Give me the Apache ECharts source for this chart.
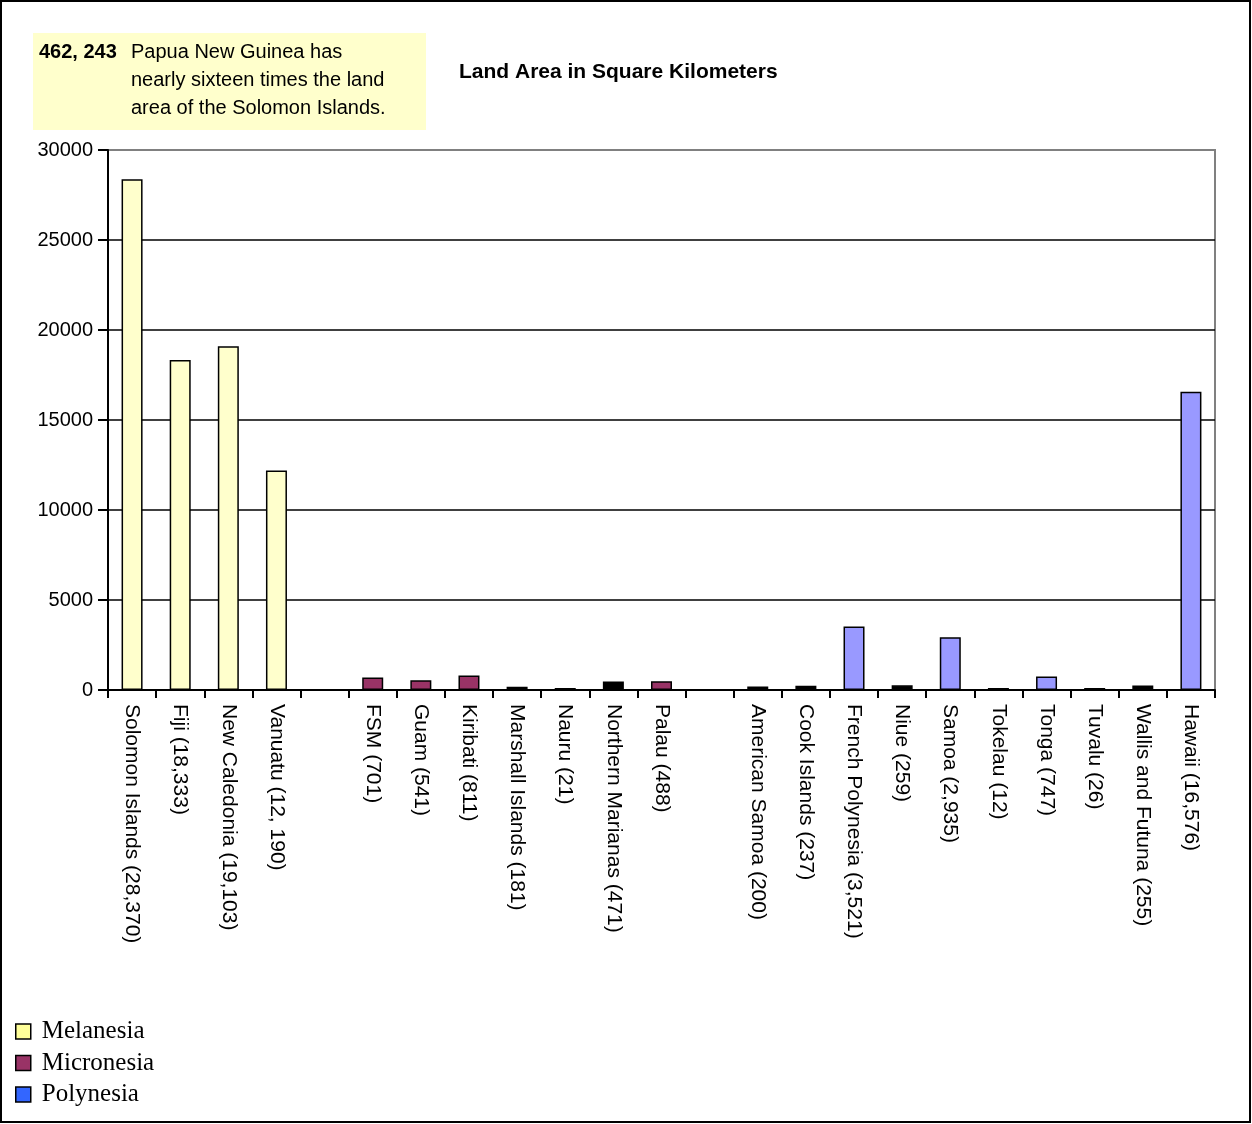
<!DOCTYPE html>
<html>
<head>
<meta charset="utf-8">
<script src="https://cdn.jsdelivr.net/npm/echarts@6/dist/echarts.min.js"></script>
<style>
  html, body { margin: 0; padding: 0; background: #fff; }
  #main { width: 1252px; height: 1124px; }
</style>
</head>
<body>
<div id="main"></div>
<script>
    // categories along the x axis ('' = gap between regions)
    var islands = ['Solomon Islands (28,370)', 'Fiji (18,333)', 'New Caledonia (19,103)', 'Vanuatu (12, 190)', '',
        'FSM (701)', 'Guam (541)', 'Kiribati (811)', 'Marshall Islands (181)', 'Nauru (21)', 'Northern Marianas (471)', 'Palau (488)', '',
        'American Samoa (200)', 'Cook Islands (237)', 'French Polynesia (3,521)', 'Niue (259)', 'Samoa (2,935)', 'Tokelau (12)',
        'Tonga (747)', 'Tuvalu (26)', 'Wallis and Futuna (255)', 'Hawaii (16,576)'];

    var melanesia = [28370, 18333, 19103, 12190, null,
        null, null, null, null, null, null, null, null,
        null, null, null, null, null, null, null, null, null, null];
    var micronesia = [null, null, null, null, null,
        701, 541, 811, 181, 21, 471, 488, null,
        null, null, null, null, null, null, null, null, null, null];
    var polynesia = [null, null, null, null, null,
        null, null, null, null, null, null, null, null,
        200, 237, 3521, 259, 2935, 12, 747, 26, 255, 16576];

    // bars that are drawn solid black in the original
    var blackBars = ['Marshall Islands (181)', 'Nauru (21)', 'Northern Marianas (471)', 'American Samoa (200)',
        'Cook Islands (237)', 'Niue (259)', 'Tokelau (12)', 'Tuvalu (26)', 'Wallis and Futuna (255)'];

    var yTicks = [0, 5000, 10000, 15000, 20000, 25000, 30000];

    function toItems(values) {
        return values.map(function (v, i) {
            if (v == null) return null;
            if (blackBars.indexOf(islands[i]) >= 0) {
                return { value: v, itemStyle: { color: '#000000' } };
            }
            return v;
        });
    }

    var myChart = echarts.init(document.getElementById('main'));
    var barStyle = { borderColor: '#000', borderWidth: 1.5 };
    var option = {
        animation: false,
        title: {
            text: 'Land Area in Square Kilometers',
            left: 459,
            top: 62,
            padding: 0,
            textStyle: { fontFamily: 'Arial, Liberation Sans', fontSize: 21, fontWeight: 'bold', color: '#000' }
        },
        legend: {
            orient: 'vertical',
            left: 15,
            top: 1019,
            padding: 0,
            icon: 'rect',
            itemWidth: 15,
            itemHeight: 15,
            itemGap: 6.5,
            textStyle: {
                fontFamily: 'Liberation Serif, Times New Roman',
                fontSize: 25,
                lineHeight: 25,
                color: '#000',
                padding: [0, 0, 0, 6]
            },
            data: [
                { name: 'Melanesia', itemStyle: { color: '#FFFF99', borderColor: '#000', borderWidth: 1.5 } },
                { name: 'Micronesia', itemStyle: { color: '#993366', borderColor: '#000', borderWidth: 1.5 } },
                { name: 'Polynesia', itemStyle: { color: '#3366FF', borderColor: '#000', borderWidth: 1.5 } }
            ]
        },
        grid: {
            left: 108,
            right: 37,
            top: 150,
            bottom: 434,
            show: true,
            borderColor: '#808080',
            borderWidth: 2
        },
        xAxis: {
            type: 'category',
            data: islands,
            boundaryGap: true,
            axisLine: { lineStyle: { color: '#000', width: 2 } },
            axisTick: { show: true, length: 8, alignWithLabel: false, lineStyle: { color: '#000', width: 2 } },
            axisLabel: {
                interval: 0,
                rotate: -90,
                margin: 14,
                fontFamily: 'Arial, Liberation Sans',
                fontSize: 21,
                color: '#000'
            },
            splitLine: { show: false }
        },
        yAxis: {
            type: 'value',
            min: yTicks[0],
            max: yTicks[yTicks.length - 1],
            interval: 5000,
            axisLine: { show: true, lineStyle: { color: '#000', width: 2 } },
            axisTick: { show: true, length: 10, lineStyle: { color: '#000', width: 2 } },
            axisLabel: {
                margin: 15,
                fontFamily: 'Arial, Liberation Sans',
                fontSize: 20,
                color: '#000',
                formatter: function (v) { return String(v); }
            },
            splitLine: { showMaxLine: false, lineStyle: { color: '#000', width: 1.5 } }
        },
        series: [{
            name: 'Melanesia',
            type: 'bar',
            stack: 'area',
            barWidth: 21,
            barMinHeight: 2,
            itemStyle: Object.assign({ color: '#FFFFCC' }, barStyle),
            data: toItems(melanesia)
        }, {
            name: 'Micronesia',
            type: 'bar',
            stack: 'area',
            barWidth: 21,
            barMinHeight: 2,
            itemStyle: Object.assign({ color: '#993366' }, barStyle),
            data: toItems(micronesia)
        }, {
            name: 'Polynesia',
            type: 'bar',
            stack: 'area',
            barWidth: 21,
            barMinHeight: 2,
            itemStyle: Object.assign({ color: '#9999FF' }, barStyle),
            data: toItems(polynesia)
        }],
        graphic: [{
            type: 'rect',
            shape: { x: 1, y: 1, width: 1249, height: 1121 },
            style: { fill: null, stroke: '#000', lineWidth: 2 },
            silent: true
        }, {
            type: 'rect',
            shape: { x: 33, y: 33, width: 393, height: 97 },
            style: { fill: '#FFFFCC' },
            silent: true
        }, {
            type: 'text',
            left: 39,
            top: 42,
            style: { text: '462, 243', font: 'bold 20px Arial, Liberation Sans', fill: '#000' }
        }, {
            type: 'text',
            left: 131,
            top: 38,
            style: {
                text: 'Papua New Guinea has\nnearly sixteen times the land\narea of the Solomon Islands.',
                font: '20px Arial, Liberation Sans',
                lineHeight: 28,
                fill: '#000'
            }
        }]
    };
    myChart.setOption(option);
</script>
</body>
</html>
